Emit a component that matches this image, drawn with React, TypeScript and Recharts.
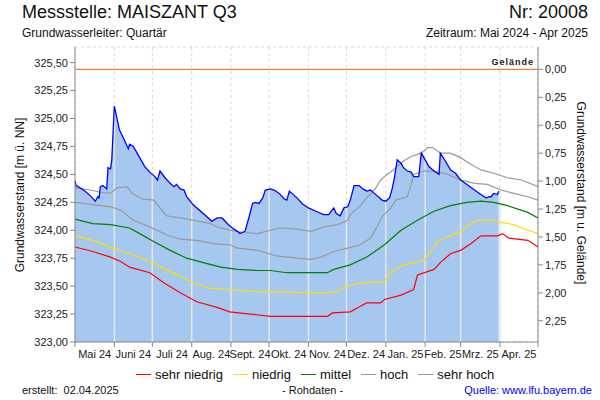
import React from 'react';
import {
  ComposedChart,
  Area,
  Line,
  XAxis,
  YAxis,
  CartesianGrid,
  ReferenceLine,
} from 'recharts';

// Geländehöhe in m ü. NN
const GELAENDE = 325.44;

const monthLabels = [
  'Mai 24', 'Juni 24', 'Juli 24', 'Aug. 24', 'Sept. 24', 'Okt. 24',
  'Nov. 24', 'Dez. 24', 'Jan. 25', 'Feb. 25', 'Mrz. 25', 'Apr. 25',
];
// Tage seit 01.05.2024
const monthStarts = [0, 31, 61, 92, 123, 153, 184, 214, 245, 276, 304, 335, 365];

const leftTicks = [323, 323.25, 323.5, 323.75, 324, 324.25, 324.5, 324.75, 325, 325.25, 325.5];
const rightTicks = [0, 0.25, 0.5, 0.75, 1, 1.25, 1.5, 1.75, 2, 2.25];

// Messwerte (Rohdaten)
const messDays = [
  0, 1, 4, 8, 12, 16, 18, 19, 20, 22, 25, 26, 28, 29, 31, 32, 35, 38, 42, 43,
  46, 49, 51, 55, 59, 63, 65, 67, 71, 75, 78, 80, 83, 86, 88, 93, 99, 104, 108, 112,
  116, 120, 124, 128, 130, 134, 137, 140, 142, 145, 148, 150, 154, 157, 161, 165, 167, 169, 171, 175,
  179, 184, 190, 196, 200, 204, 206, 209, 212, 215, 217, 220, 224, 227, 230, 233, 236, 240, 242, 245,
  248, 250, 252, 254, 257, 259, 262, 265, 267, 271, 273, 276, 279, 283, 287, 288, 292, 296, 300, 304,
  309, 315, 320, 324, 327, 328, 330, 333, 334,
];
const messValues = [
  324.44, 324.40, 324.38, 324.35, 324.31, 324.26, 324.30, 324.29, 324.39, 324.40, 324.37, 324.56, 324.55, 324.63, 325.11, 325.06, 324.90, 324.83, 324.73, 324.77,
  324.75, 324.69, 324.65, 324.57, 324.52, 324.48, 324.45, 324.53, 324.47, 324.42, 324.39, 324.41, 324.37, 324.36, 324.30, 324.23, 324.17, 324.12, 324.08, 324.11,
  324.11, 324.06, 324.02, 323.99, 323.97, 323.99, 324.11, 324.24, 324.25, 324.24, 324.29, 324.36, 324.37, 324.36, 324.33, 324.28, 324.27, 324.35, 324.33, 324.29,
  324.24, 324.20, 324.17, 324.14, 324.14, 324.20, 324.15, 324.13, 324.20, 324.21, 324.27, 324.40, 324.40, 324.37, 324.35, 324.36, 324.33, 324.29, 324.27, 324.26,
  324.29, 324.37, 324.48, 324.63, 324.60, 324.56, 324.53, 324.52, 324.48, 324.48, 324.69, 324.63, 324.57, 324.53, 324.50, 324.69, 324.62, 324.54, 324.51, 324.45,
  324.41, 324.36, 324.32, 324.29, 324.30, 324.30, 324.33, 324.32, 324.35,
];

const sehrHochDays = [0, 12, 20, 28, 33, 41, 45, 53, 62, 72, 83, 93, 107, 112, 122, 133, 144, 154, 162, 175, 186, 196, 207, 215, 217, 225, 230, 236, 241, 246, 251, 259, 265, 273, 278, 282, 288, 296, 304, 312, 320, 330, 341, 352, 365];
const sehrHochValues = [324.38, 324.36, 324.34, 324.33, 324.38, 324.39, 324.33, 324.28, 324.27, 324.13, 324.11, 324.09, 324.06, 324.03, 324.00, 323.98, 323.97, 324.00, 324.02, 324.01, 323.99, 324.03, 324.05, 324.09, 324.14, 324.22, 324.29, 324.36, 324.45, 324.50, 324.54, 324.62, 324.66, 324.69, 324.74, 324.74, 324.69, 324.69, 324.65, 324.59, 324.54, 324.51, 324.47, 324.45, 324.39];

const hochDays = [0, 14, 28, 36, 46, 59, 72, 83, 96, 109, 122, 128, 144, 159, 175, 186, 194, 204, 215, 225, 233, 238, 242, 249, 253, 262, 265, 267, 275, 283, 294, 304, 315, 325, 336, 346, 357, 365];
const hochValues = [324.25, 324.23, 324.21, 324.18, 324.09, 324.03, 323.96, 323.92, 323.91, 323.88, 323.87, 323.84, 323.82, 323.77, 323.75, 323.74, 323.76, 323.81, 323.84, 323.87, 323.93, 324.03, 324.12, 324.20, 324.27, 324.30, 324.41, 324.50, 324.53, 324.53, 324.50, 324.45, 324.42, 324.41, 324.36, 324.33, 324.30, 324.27];

const mittelDays = [0, 14, 28, 43, 51, 62, 75, 88, 101, 115, 128, 144, 154, 167, 186, 199, 204, 217, 230, 244, 257, 270, 283, 296, 309, 320, 330, 341, 357, 365];
const mittelValues = [324.10, 324.06, 324.05, 324.02, 323.97, 323.90, 323.82, 323.75, 323.71, 323.67, 323.65, 323.64, 323.64, 323.62, 323.62, 323.62, 323.65, 323.69, 323.76, 323.87, 324.00, 324.09, 324.17, 324.22, 324.25, 324.26, 324.25, 324.22, 324.16, 324.11];

const niedrigDays = [0, 14, 30, 43, 59, 75, 93, 107, 122, 144, 154, 186, 199, 207, 212, 215, 225, 244, 249, 259, 275, 281, 286, 294, 304, 312, 317, 330, 336, 346, 357, 365];
const niedrigValues = [323.95, 323.91, 323.84, 323.79, 323.72, 323.63, 323.53, 323.48, 323.47, 323.45, 323.45, 323.44, 323.44, 323.45, 323.49, 323.50, 323.53, 323.54, 323.63, 323.69, 323.73, 323.82, 323.90, 323.94, 323.99, 324.06, 324.09, 324.09, 324.07, 324.05, 324.00, 323.97];

const sehrNiedrigDays = [0, 14, 28, 36, 43, 59, 70, 83, 96, 112, 122, 138, 154, 186, 199, 203, 217, 225, 230, 241, 244, 257, 267, 270, 283, 288, 296, 304, 312, 320, 333, 337, 342, 357, 365];
const sehrNiedrigValues = [323.85, 323.81, 323.76, 323.72, 323.67, 323.62, 323.53, 323.44, 323.36, 323.31, 323.27, 323.25, 323.23, 323.23, 323.23, 323.26, 323.27, 323.32, 323.35, 323.35, 323.38, 323.42, 323.47, 323.60, 323.65, 323.71, 323.79, 323.82, 323.88, 323.95, 323.95, 323.97, 323.93, 323.91, 323.85];

const toPoints = (days: number[], values: number[]) =>
  days.map((d, i) => ({ d, v: values[i] }));

const messData = toPoints(messDays, messValues);
const stats = [
  { name: 'sehr niedrig', color: '#ff0000', data: toPoints(sehrNiedrigDays, sehrNiedrigValues) },
  { name: 'niedrig', color: '#ffdd00', data: toPoints(niedrigDays, niedrigValues) },
  { name: 'mittel', color: '#008000', data: toPoints(mittelDays, mittelValues) },
  { name: 'hoch', color: '#999999', data: toPoints(hochDays, hochValues) },
  { name: 'sehr hoch', color: '#999999', data: toPoints(sehrHochDays, sehrHochValues) },
];

const valueAt = (day: number) => {
  for (let i = 1; i < messDays.length; i++) {
    if (messDays[i] >= day) {
      const t = (day - messDays[i - 1]) / (messDays[i] - messDays[i - 1]);
      return messValues[i - 1] + t * (messValues[i] - messValues[i - 1]);
    }
  }
  return messValues[messValues.length - 1];
};

const fmt = (v: number) => v.toFixed(2).replace('.', ',');

const FONT = '"Liberation Sans", Arial, sans-serif';
const PLOT_W = 463;

const MonthTick = (props: any) => {
  const { x, y, index } = props;
  if (index >= monthLabels.length) return <g />;
  const w = ((monthStarts[index + 1] - monthStarts[index]) / 365) * PLOT_W;
  return (
    <text x={x + w / 2} y={y + 9} textAnchor="middle" fontSize={11} fill="#222" fontFamily={FONT}>
      {monthLabels[index]}
    </text>
  );
};

const App: React.FC = () => {
  return (
    <div style={{ position: 'absolute', left: 0, top: 0, width: 600, height: 400, background: '#fff', fontFamily: FONT, color: '#111' }}>
      <div style={{ position: 'absolute', left: 22, top: 2, fontSize: 18 }}>Messstelle: MAISZANT Q3</div>
      <div style={{ position: 'absolute', right: 12, top: 2, fontSize: 18 }}>Nr: 20008</div>
      <div style={{ position: 'absolute', left: 22, top: 26, fontSize: 12 }}>Grundwasserleiter: Quartär</div>
      <div style={{ position: 'absolute', right: 12, top: 26, fontSize: 12 }}>Zeitraum: Mai 2024 - Apr 2025</div>

      <ComposedChart
        width={600}
        height={400}
        margin={{ top: 47, right: 2, bottom: 28, left: 15 }}
        style={{ position: 'absolute', left: 0, top: 0 }}
      >
        <CartesianGrid stroke="#d8d8d8" strokeDasharray="3 3" />
        <XAxis
          type="number"
          dataKey="d"
          domain={[0, 365]}
          ticks={monthStarts}
          interval={0}
          height={30}
          stroke="#888"
          tickSize={5}
          tick={MonthTick}
        />
        <YAxis
          yAxisId="left"
          type="number"
          domain={[323, 325.64]}
          ticks={leftTicks}
          allowDataOverflow
          width={60}
          stroke="#888"
          tickSize={5}
          tickFormatter={fmt}
          tick={{ fontSize: 11, fill: '#222', fontFamily: FONT }}
        />
        <YAxis
          yAxisId="right"
          orientation="right"
          type="number"
          reversed
          domain={[GELAENDE - 325.64, GELAENDE - 323]}
          ticks={rightTicks}
          allowDataOverflow
          width={60}
          stroke="#888"
          tickSize={5}
          tickFormatter={fmt}
          tick={{ fontSize: 11, fill: '#222', fontFamily: FONT }}
        />
        <Area
          yAxisId="left"
          data={messData}
          dataKey="v"
          type="linear"
          stroke="none"
          fill="#a6c8f0"
          fillOpacity={1}
          baseValue={323}
          isAnimationActive={false}
        />
        {monthStarts.slice(1).filter((m) => m <= messDays[messDays.length - 1] + 1).map((m) => (
          <ReferenceLine
            key={m}
            yAxisId="left"
            segment={[{ x: m, y: 323 }, { x: m, y: valueAt(m) }]}
            stroke="#e6e6e6"
            strokeWidth={1.5}
          />
        ))}
        <ReferenceLine
          yAxisId="left"
          y={GELAENDE}
          stroke="#f07c3c"
          strokeWidth={1.2}
          label={{ value: 'Gelände', position: 'insideBottomRight', fontSize: 9, fontWeight: 'bold', fill: '#222', letterSpacing: 1, offset: 4 }}
        />
        {stats.map((s) => (
          <Line
            key={s.name}
            yAxisId="left"
            data={s.data}
            dataKey="v"
            type="linear"
            stroke={s.color}
            strokeWidth={1.2}
            dot={false}
            isAnimationActive={false}
          />
        ))}
        <Line
          yAxisId="left"
          data={messData}
          dataKey="v"
          type="linear"
          stroke="#0000ff"
          strokeWidth={1.3}
          dot={false}
          isAnimationActive={false}
        />
      </ComposedChart>

      <div style={{ position: 'absolute', left: 20, top: 195, fontSize: 12, transform: 'translate(-50%, -50%) rotate(-90deg)', whiteSpace: 'nowrap' }}>
        Grundwasserstand [m ü. NN]
      </div>
      <div style={{ position: 'absolute', left: 581, top: 193, fontSize: 12, transform: 'translate(-50%, -50%) rotate(90deg)', whiteSpace: 'nowrap' }}>
        Grundwasserstand [m u. Gelände]
      </div>

      <div style={{ position: 'absolute', left: 136, top: 367, display: 'flex', alignItems: 'center', fontSize: 13 }}>
        {stats.map((s) => (
          <div key={s.name} style={{ display: 'flex', alignItems: 'center', marginRight: 10 }}>
            <div style={{ width: 15, height: 1.5, background: s.color, marginRight: 4 }} />
            <span>{s.name}</span>
          </div>
        ))}
      </div>

      <div style={{ position: 'absolute', left: 22, top: 384, fontSize: 11 }}>erstellt:&nbsp;&nbsp;02.04.2025</div>
      <div style={{ position: 'absolute', left: 282, top: 384, fontSize: 11 }}>- Rohdaten -</div>
      <div style={{ position: 'absolute', right: 8, top: 384, fontSize: 11, color: '#0000ff' }}>Quelle: www.lfu.bayern.de</div>
    </div>
  );
};

export default App;
